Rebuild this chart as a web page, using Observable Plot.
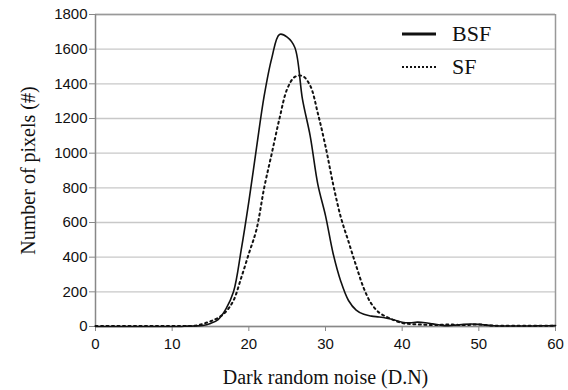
<!DOCTYPE html>
<html>
<head>
<meta charset="utf-8">
<script src="https://cdn.jsdelivr.net/npm/d3@7"></script>
<script src="https://cdn.jsdelivr.net/npm/@observablehq/plot@0.6"></script>
<style>
  html, body { margin: 0; padding: 0; background: #ffffff; }
  #wrap { position: relative; width: 568px; height: 390px; }
  #legend { position: absolute; left: 402px; top: 17px; font-family: "Liberation Serif", "Times New Roman", serif; font-size: 22px; color: #111; }
  #legend .row { display: flex; align-items: center; height: 33px; }
  #legend svg { margin-right: 16px; }
</style>
</head>
<body>
<div id="wrap">
  <div id="chart"></div>
  <div id="legend"></div>
</div>
<script>
const noise = d3.range(0, 61);
const bsf = [0,0,0,0,0,0,0,0,0,0,0,0,2,3,6,18,40,100,200,440,720,1030,1330,1550,1685,1670,1610,1310,1100,820,640,420,260,150,95,70,60,55,48,38,25,22,25,22,15,8,5,8,12,14,12,8,4,3,3,3,3,3,4,4,5];
const sf  = [3,3,3,3,3,3,3,3,3,3,3,3,3,5,15,30,50,85,150,280,420,560,800,1000,1200,1370,1440,1445,1390,1230,1040,820,630,490,350,220,130,80,55,35,20,15,12,10,8,10,12,10,8,10,12,8,5,5,5,5,5,5,5,5,5];
const seriesNames = ["BSF", "SF"];
const xTicks = [0, 10, 20, 30, 40, 50, 60];
const yTicks = [0, 200, 400, 600, 800, 1000, 1200, 1400, 1600, 1800];
const xTitle = "Dark random noise (D.N)";
const yTitle = "Number of pixels (#)";

const rows = [];
noise.forEach((x, i) => {
  rows.push({x, y: bsf[i], s: "BSF"});
  rows.push({x, y: sf[i], s: "SF"});
});

const serif = "'Liberation Serif', 'Times New Roman', serif";
const chart = Plot.plot({
  width: 568,
  height: 390,
  marginLeft: 95,
  marginRight: 13,
  marginTop: 14,
  marginBottom: 64,
  style: {fontFamily: "'Liberation Sans', Arial, sans-serif", background: "#ffffff", color: "#111"},
  x: {domain: [0, 60]},
  y: {domain: [0, 1800]},
  marks: [
    Plot.gridY(yTicks, {stroke: "#c8c8c8", strokeOpacity: 1, strokeWidth: 1.3}),
    Plot.ruleY([1800], {stroke: "#999", strokeWidth: 1.5}),
    Plot.ruleX([60], {stroke: "#999", strokeWidth: 1.5}),
    Plot.ruleX([0], {stroke: "#888", strokeWidth: 1.5}),
    Plot.ruleY([0], {stroke: "#888", strokeWidth: 1.5}),
    Plot.axisY(yTicks, {tickSize: 6, tickPadding: 2, fontSize: 15, stroke: "#888", label: null, fill: "#111", tickFormat: d => String(d)}),
    Plot.axisX(xTicks, {tickSize: 5, tickPadding: 7, fontSize: 15, stroke: "#888", label: null, fill: "#111", tickFormat: d => String(d)}),
    Plot.line(rows.filter(d => d.s === "SF"), {x: "x", y: "y", stroke: "#111", strokeWidth: 2, strokeDasharray: "2,3.5", curve: "catmull-rom"}),
    Plot.line(rows.filter(d => d.s === "BSF"), {x: "x", y: "y", stroke: "#111", strokeWidth: 1.6, curve: "catmull-rom"}),
    Plot.text([xTitle], {text: d => d, frameAnchor: "bottom", textAnchor: "middle", lineAnchor: "middle", dy: 51, fontSize: 20, fontFamily: serif, fill: "#111"}),
    Plot.text([yTitle], {text: d => d, frameAnchor: "left", textAnchor: "middle", lineAnchor: "middle", dx: -67, rotate: -90, fontSize: 20, fontFamily: serif, fill: "#111"})
  ]
});
document.getElementById("chart").appendChild(chart);

const legend = document.getElementById("legend");
seriesNames.forEach(name => {
  const row = document.createElement("div");
  row.className = "row";
  const dash = name === "SF" ? "2,2" : "none";
  const sw = name === "SF" ? 2 : 2.8;
  row.innerHTML = `<svg width="34" height="10"><line x1="0" x2="34" y1="5" y2="5" stroke="#111" stroke-width="${sw}" stroke-dasharray="${dash}"/></svg><span>${name}</span>`;
  legend.appendChild(row);
});
</script>
</body>
</html>
